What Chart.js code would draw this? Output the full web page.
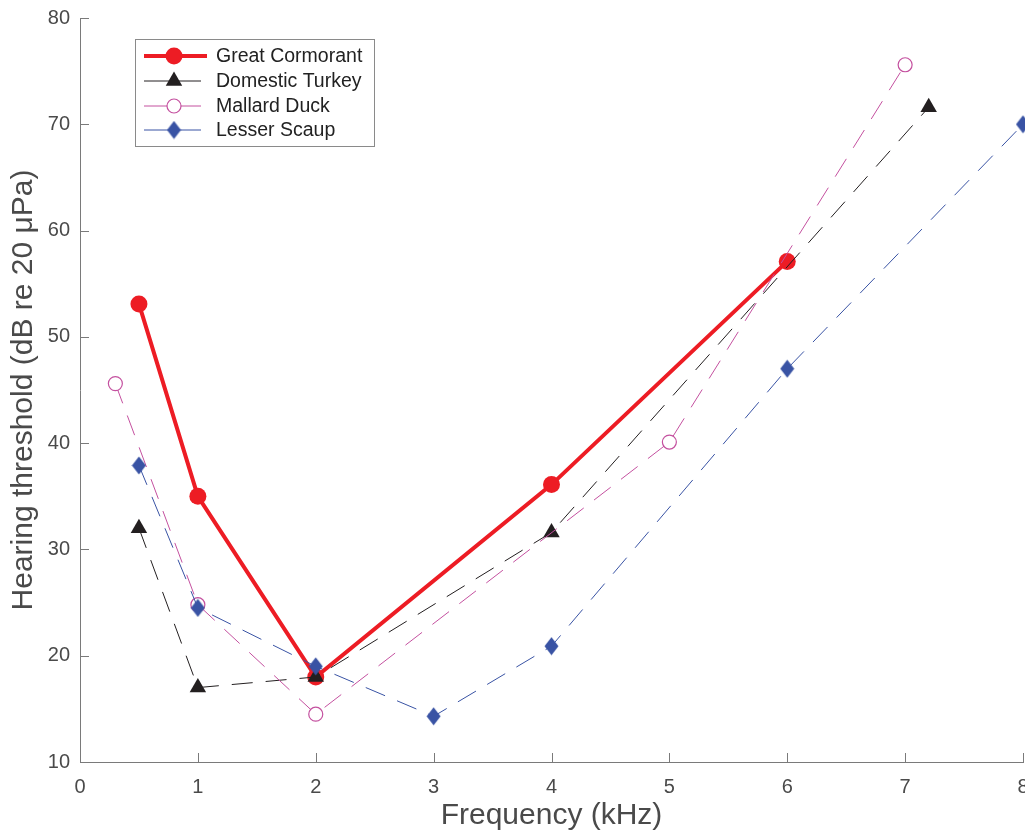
<!DOCTYPE html>
<html><head><meta charset="utf-8">
<script src="https://cdn.jsdelivr.net/npm/chart.js@4.4.1/dist/chart.umd.min.js"></script>
<style>
html,body{margin:0;padding:0;overflow:hidden;background:#fff;width:1025px;height:839px}
#wrap{position:absolute;left:0;top:0;width:1100px;height:839px}
canvas{display:block}
</style>
</head><body><div id="wrap"><canvas id="c" width="1100" height="839" style="width:1100px;height:839px"></canvas></div>
<script>
// ---- data ----
const seriesNames = ['Great Cormorant', 'Domestic Turkey', 'Mallard Duck', 'Lesser Scaup'];
const cormorantFreq = [0.5, 1, 2, 4, 6];
const cormorantThr  = [53.1, 35.0, 18.0, 36.1, 57.1];
const turkeyFreq = [0.5, 1, 2, 4, 7.2];
const turkeyThr  = [32.0, 17.0, 18.0, 31.6, 71.6];
const mallardFreq = [0.3, 1, 2, 5, 7];
const mallardThr  = [45.6, 24.8, 14.5, 40.1, 75.6];
const scaupFreq = [0.5, 1, 2, 3, 4, 6, 8];
const scaupThr  = [37.9, 24.5, 19.0, 14.3, 20.9, 47.0, 70.0];
const xTicks = [0, 1, 2, 3, 4, 5, 6, 7, 8];
const yTicks = [10, 20, 30, 40, 50, 60, 70, 80];
const xTitle = 'Frequency (kHz)';
const yTitle = 'Hearing threshold (dB re 20 μPa)';

const FONT = '"Liberation Sans", Arial, Helvetica, sans-serif';
const RED = '#ED1C24', BLACK = '#231F20', PINK = '#C4509F', BLUE = '#3953A4';
const AXIS = '#7a7a7a', TEXT = '#4a4a4a';

function pts(xs, ys) { return xs.map((x, i) => ({ x: x, y: ys[i] })); }

// diamond marker (taller than wide)
const diamond = document.createElement('canvas');
diamond.width = 15; diamond.height = 19;
(function () {
  const g = diamond.getContext('2d');
  g.beginPath();
  g.moveTo(7.5, 0.5); g.lineTo(14.5, 9.5); g.lineTo(7.5, 18.5); g.lineTo(0.5, 9.5); g.closePath();
  g.fillStyle = BLUE; g.fill();
})();

const DASH = [21, 13];

const datasets = [
  { label: seriesNames[0], data: pts(cormorantFreq, cormorantThr), borderColor: RED, borderWidth: 4,
    pointStyle: 'circle', pointRadius: 8.5, pointBackgroundColor: RED, pointBorderColor: RED, pointBorderWidth: 0, order: 4 },
  { label: seriesNames[1], data: pts(turkeyFreq, turkeyThr), borderColor: BLACK, borderWidth: 1, borderDash: DASH,
    pointStyle: 'triangle', pointRadius: 9.5, pointBackgroundColor: BLACK, pointBorderColor: BLACK, pointBorderWidth: 0, order: 3 },
  { label: seriesNames[2], data: pts(mallardFreq, mallardThr), borderColor: PINK, borderWidth: 1, borderDash: DASH,
    pointStyle: 'circle', pointRadius: 7, pointBackgroundColor: '#ffffff', pointBorderColor: PINK, pointBorderWidth: 1.2, order: 2 },
  { label: seriesNames[3], data: pts(scaupFreq, scaupThr), borderColor: BLUE, borderWidth: 1, borderDash: DASH,
    pointStyle: diamond, pointRadius: 9, pointBackgroundColor: BLUE, pointBorderColor: BLUE, order: 1 }
];
datasets.forEach(d => { d.fill = false; d.tension = 0; d.clip = false; d.showLine = true; });

// inward tick marks
const inwardTicks = {
  id: 'inwardTicks',
  beforeDatasetsDraw(chart) {
    const ctx = chart.ctx, a = chart.chartArea;
    const xs = chart.scales.x, ys = chart.scales.y;
    ctx.save();
    ctx.strokeStyle = AXIS; ctx.lineWidth = 1;
    ctx.beginPath();
    xTicks.forEach(v => { const p = Math.round(xs.getPixelForValue(v)) + 0.5; ctx.moveTo(p, a.bottom); ctx.lineTo(p, a.bottom - 9); });
    yTicks.forEach(v => { const p = Math.round(ys.getPixelForValue(v)) + 0.5; ctx.moveTo(a.left, p); ctx.lineTo(a.left + 9, p); });
    ctx.stroke();
    ctx.restore();
  }
};

// MATLAB-style legend box
const boxLegend = {
  id: 'boxLegend',
  afterDatasetsDraw(chart) {
    const ctx = chart.ctx;
    const bx = 135.5, by = 39.5, bw = 239, bh = 107;
    ctx.save();
    ctx.fillStyle = '#fff'; ctx.fillRect(bx, by, bw, bh);
    ctx.strokeStyle = '#8a8a8a'; ctx.lineWidth = 1; ctx.strokeRect(bx, by, bw, bh);
    const rowY = [56, 81, 106, 130];
    chart.data.datasets.forEach((d, i) => {
      const y = rowY[i];
      ctx.save();
      ctx.strokeStyle = d.borderColor; ctx.lineWidth = d.borderWidth; ctx.setLineDash([]);
      ctx.beginPath(); ctx.moveTo(144, y); ctx.lineTo(i === 0 ? 207 : 201, y); ctx.stroke();
      ctx.restore();
      ctx.save();
      ctx.fillStyle = d.pointBackgroundColor; ctx.strokeStyle = d.pointBorderColor; ctx.lineWidth = d.pointBorderWidth || 1;
      Chart.helpers.drawPoint(ctx, { pointStyle: d.pointStyle, radius: d.pointRadius, rotation: 0, borderWidth: d.pointBorderWidth || 0 }, 174, y);
      ctx.restore();
      ctx.fillStyle = '#222'; ctx.font = '19.5px ' + FONT; ctx.textBaseline = 'middle'; ctx.textAlign = 'left';
      ctx.fillText(d.label, 216, y + 1);
    });
    ctx.restore();
  }
};

new Chart(document.getElementById('c'), {
  type: 'line',
  data: { datasets: datasets },
  options: {
    responsive: false,
    animation: false,
    devicePixelRatio: 1,
    layout: { padding: { top: 18, right: 77, bottom: 0, left: 0 } },
    plugins: { legend: { display: false }, tooltip: { enabled: false } },
    scales: {
      x: {
        type: 'linear', min: 0, max: 8,
        afterBuildTicks: s => { s.ticks = xTicks.map(v => ({ value: v })); },
        afterFit: s => { s.height = 77; s.paddingLeft = 0; s.paddingRight = 0; },
        grid: { drawOnChartArea: false, drawTicks: false },
        border: { display: true, color: AXIS, width: 1 },
        ticks: { padding: 13, color: TEXT, font: { family: FONT, size: 20 }, maxRotation: 0, autoSkip: false },
        title: { display: true, text: xTitle, color: TEXT, font: { family: FONT, size: 30 }, padding: { top: 0, bottom: 5 } }
      },
      y: {
        type: 'linear', min: 10, max: 80,
        afterBuildTicks: s => { s.ticks = yTicks.map(v => ({ value: v })); },
        afterFit: s => { s.width = 80; s.paddingTop = 0; s.paddingBottom = 0; },
        grid: { drawOnChartArea: false, drawTicks: false },
        border: { display: true, color: AXIS, width: 1 },
        ticks: { padding: 10, color: TEXT, font: { family: FONT, size: 20 }, autoSkip: false },
        title: { display: true, text: yTitle, color: TEXT, font: { family: FONT, size: 30 }, padding: { top: 6, bottom: 0 } }
      }
    }
  },
  plugins: [inwardTicks, boxLegend]
});
</script>
</body></html>
